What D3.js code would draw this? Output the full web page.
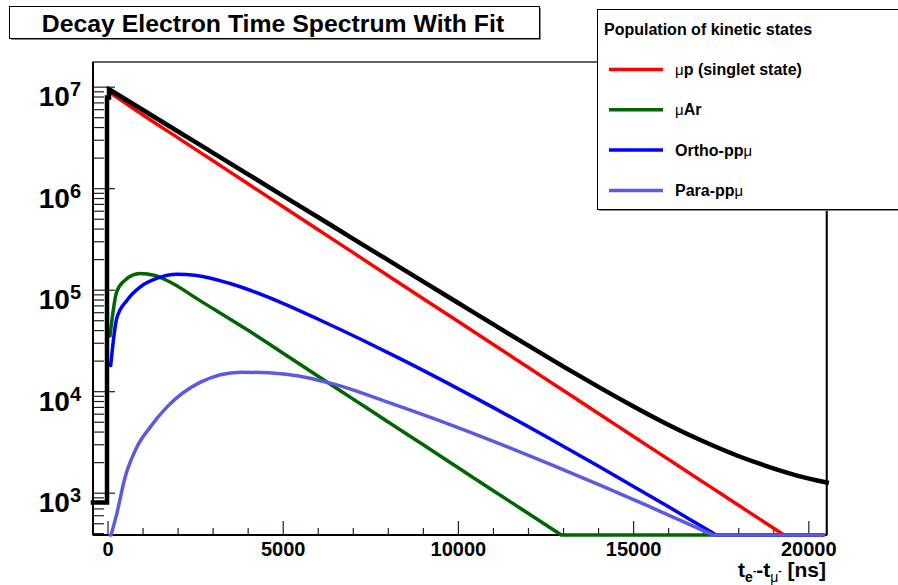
<!DOCTYPE html>
<html>
<head>
<meta charset="utf-8">
<script src="https://cdn.jsdelivr.net/npm/d3@7.9.0/dist/d3.min.js"></script>
<style>
  body { margin: 0; background: #fff; }
  svg { font-family: "Liberation Sans", Arial, Helvetica, sans-serif; font-weight: bold; }
</style>
</head>
<body>
<svg id="chart" width="898" height="585"></svg>
<script>
// values: time in ns, counts per bin
const histT = [-414, -14, -14, 43, 43, 100, 1000, 2000, 3000, 4000, 5000, 6000, 7000, 8000, 9000,
  10000, 11000, 12000, 13000, 14000, 15000, 16000, 17000, 18000, 19000, 19763, 20525];
const histCounts = [800, 800, 7.8e6, 7.8e6, 9.4e6, 9.18e6, 5.93e6, 3.64e6, 2.24e6, 1.377e6, 8.45e5, 5.20e5,
  3.19e5, 1.963e5, 1.208e5, 7.43e4, 4.57e4, 2.825e4, 1.758e4, 1.109e4, 7.11e3, 4.68e3, 3.21e3, 2.30e3,
  1.74e3, 1.45e3, 1.26e3];

const singletT = [60, 1000, 2000, 3000, 4000, 5000, 6000, 7000, 8000, 9000, 10000, 11000, 12000,
  13000, 14000, 15000, 16000, 17000, 18000, 19000, 20000];
const singletN = [8.8e6, 5.29e6, 3.15e6, 1.87e6, 1.11e6, 6.59e5, 3.92e5, 2.33e5, 1.38e5, 8.2e4, 4.88e4,
  2.90e4, 1.72e4, 1.02e4, 6.07e3, 3.60e3, 2.14e3, 1.27e3, 755, 449, 267];

const muArT = [71, 262, 500, 927, 1356, 1784, 2640, 4000, 5000, 6000, 7000, 8000, 9000, 10000,
  11000, 12000, 13000];
const muArN = [3.5e4, 9.5e4, 1.24e5, 1.44e5, 1.38e5, 1.19e5, 7.8e4, 4.0e4, 2.38e4, 1.41e4, 8.4e3,
  5.0e3, 2.98e3, 1.77e3, 1.05e3, 628, 373];

const orthoT = [91, 262, 548, 927, 1404, 1975, 2546, 3496, 4923, 6000, 7255, 8348, 10000, 12628,
  14055, 15000, 16000, 17000, 18000];
const orthoN = [1.79e4, 5.2e4, 7.8e4, 1.06e5, 1.29e5, 1.42e5, 1.38e5, 1.15e5, 7.55e4, 5.14e4, 3.21e4,
  2.09e4, 1.06e4, 3.40e3, 1.79e3, 1.16e3, 730, 456, 285];

const paraT = [71, 262, 500, 833, 1213, 1700, 2640, 3800, 5017, 6444, 7871, 9298, 10725, 12628,
  14055, 15500, 17289, 18000];
const paraN = [350, 615, 1410, 2790, 4400, 7000, 1.22e4, 1.54e4, 1.48e4, 1.18e4, 8.09e3, 5.40e3, 3.51e3,
  1.91e3, 1.19e3, 721, 382, 295];

const fitEnd = 20430;
const xTicks = [0, 5000, 10000, 15000, 20000];
const yTicks = [1e3, 1e4, 1e5, 1e6, 1e7];

const series = [
  { mu: "μ", label: "Ar", t: muArT, n: muArN, color: "#006600" },
  { mu: "μ", label: "p (singlet state)", t: singletT, n: singletN, color: "#ff0000" },
  { label: "Ortho-pp", muAfter: "μ", t: orthoT, n: orthoN, color: "#0000ff" },
  { label: "Para-pp", muAfter: "μ", t: paraT, n: paraN, color: "#5b5bdd" }
];
const legendOrder = [1, 0, 2, 3];

const svg = d3.select("#chart");
const plotL = 93, plotR = 826.7, plotT = 62, plotB = 535;

const x = d3.scaleLinear().domain([-414, 20525]).range([plotL, plotR]);
const y = d3.scaleLog().domain([383, 1.75e7]).range([plotB, plotT]);
const yFloor = y.domain()[0];

svg.append("rect").attr("width", 898).attr("height", 585).attr("fill", "#fff");

// frame
svg.append("rect")
  .attr("x", plotL).attr("y", plotT)
  .attr("width", plotR - plotL).attr("height", plotB - plotT)
  .attr("fill", "none").attr("stroke", "#000").attr("stroke-width", 1.2);
svg.append("line")
  .attr("x1", plotR).attr("x2", plotR).attr("y1", plotT).attr("y2", plotB)
  .attr("stroke", "#000").attr("stroke-width", 2);

// x axis: major + minor ticks pointing inward
const xMinor = d3.range(0, 20001, 1000).filter(d => d % 5000 !== 0);
svg.append("g")
  .attr("transform", `translate(0,${plotB})`)
  .call(d3.axisBottom(x).tickValues(xMinor).tickSize(-7).tickFormat(""))
  .call(g => g.select(".domain").remove());
const gx = svg.append("g")
  .attr("transform", `translate(0,${plotB})`)
  .call(d3.axisBottom(x).tickValues(xTicks).tickSize(-14).tickPadding(7).tickFormat(d3.format("d")));
gx.select(".domain").attr("stroke-width", 2).attr("d", `M${plotL},0H${plotR}`);
gx.selectAll("text").attr("font-size", 20).attr("font-weight", "bold")
  .attr("font-family", "Liberation Sans, Arial, sans-serif").attr("fill", "#000");

// y axis: decades + 2..9 minor ticks
const yMinor = [];
for (let e = 2; e <= 7; e++) {
  for (let k = 2; k <= 9; k++) {
    const v = k * Math.pow(10, e);
    if (v >= yFloor && v <= y.domain()[1]) yMinor.push(v);
  }
}
svg.append("g")
  .attr("transform", `translate(${plotL},0)`)
  .call(d3.axisLeft(y).tickValues(yMinor).tickSize(-11).tickFormat(""))
  .call(g => g.select(".domain").remove());
const gy = svg.append("g")
  .attr("transform", `translate(${plotL},0)`)
  .call(d3.axisLeft(y).tickValues(yTicks).tickSize(-22).tickPadding(12).tickFormat(""));
gy.select(".domain").attr("stroke-width", 2).attr("d", `M0,${plotB}V${plotT}`);
gy.selectAll(".tick text").each(function(d) {
  const t = d3.select(this).attr("dy", null).attr("y", 19)
    .attr("font-family", "Liberation Sans, Arial, sans-serif")
    .attr("font-weight", "bold").attr("fill", "#000");
  t.append("tspan").attr("font-size", 28).text("10");
  t.append("tspan").attr("font-size", 20).attr("dy", -10).text(Math.round(Math.log10(d)));
});
svg.selectAll(".tick line").attr("stroke", "#222").attr("stroke-width", 1.2);

// curves that fall below the axis minimum are drawn along the floor
function floorPoints(ts, vs, tEnd) {
  const pts = [];
  for (let i = 0; i < ts.length; i++) {
    if (i > 0) {
      const a = vs[i - 1], b = vs[i];
      if ((a >= yFloor) !== (b >= yFloor)) {
        const la = Math.log10(a), lb = Math.log10(b);
        const f = (Math.log10(yFloor) - la) / (lb - la);
        pts.push([ts[i - 1] + f * (ts[i] - ts[i - 1]), yFloor]);
      }
    }
    pts.push([ts[i], Math.max(vs[i], yFloor)]);
  }
  if (tEnd > ts[ts.length - 1]) pts.push([tEnd, yFloor]);
  return pts;
}

// split into runs above the floor (smoothed) and runs on the floor (straight)
function runs(pts) {
  const out = [];
  let cur = [pts[0]], onFloor = pts[0][1] <= yFloor;
  for (let i = 1; i < pts.length; i++) {
    const p = pts[i], f = p[1] <= yFloor;
    if (f === onFloor) { cur.push(p); continue; }
    if (f) { cur.push(p); out.push({ floor: false, pts: cur }); cur = [p]; }
    else { out.push({ floor: true, pts: cur }); cur = [cur[cur.length - 1], p]; }
    onFloor = f;
  }
  out.push({ floor: onFloor, pts: cur });
  return out;
}

const smooth = d3.line().x(d => x(d[0])).y(d => y(d[1])).curve(d3.curveMonotoneX);
const straight = d3.line().x(d => x(d[0])).y(d => y(d[1]));

series.forEach(s => {
  const d = runs(floorPoints(s.t, s.n, fitEnd))
    .filter(r => r.pts.length > 1)
    .map(r => (r.floor ? straight : smooth)(r.pts)).join("");
  svg.append("path")
    .attr("d", d)
    .attr("fill", "none")
    .attr("stroke", s.color)
    .attr("stroke-width", 3.5)
    .attr("stroke-linejoin", "round")
    .attr("stroke-linecap", "round");
});

// data histogram: steps at the start, then the decay
const histPts = histT.map((t, i) => [t, histCounts[i]]);
svg.append("path")
  .attr("d", straight(histPts.slice(0, 6)) + smooth(histPts.slice(5)))
  .attr("fill", "none")
  .attr("stroke", "#000")
  .attr("stroke-width", 4.5)
  .attr("stroke-linecap", "square");

// x axis title
const xt = svg.append("text")
  .attr("x", 826).attr("y", 577)
  .attr("text-anchor", "end")
  .attr("font-size", 21).attr("fill", "#000");
xt.append("tspan").text("t");
xt.append("tspan").attr("font-size", 14).attr("dy", 5).text("e");
xt.append("tspan").attr("font-size", 10).attr("dy", -8).text("-");
xt.append("tspan").attr("dy", 3).text("-t");
xt.append("tspan").attr("font-size", 14).attr("font-weight", "normal").attr("dy", 5).text("μ");
xt.append("tspan").attr("font-size", 10).attr("dy", -8).text("-");
xt.append("tspan").attr("dy", 3).text(" [ns]");

// title box
svg.append("rect").attr("x", 11).attr("y", 8).attr("width", 530).attr("height", 32).attr("fill", "#888");
svg.append("rect").attr("x", 9.5).attr("y", 6.5).attr("width", 530).attr("height", 32)
  .attr("fill", "#fff").attr("stroke", "#000").attr("stroke-width", 1);
svg.append("text")
  .attr("x", 273).attr("y", 31.5)
  .attr("text-anchor", "middle")
  .attr("font-size", 24.8).attr("fill", "#000")
  .text("Decay Electron Time Spectrum With Fit");

// legend
const lg = svg.append("g");
lg.append("rect").attr("x", 599).attr("y", 11).attr("width", 320).attr("height", 200).attr("fill", "#888");
lg.append("rect").attr("x", 597.5).attr("y", 9.5).attr("width", 320).attr("height", 200)
  .attr("fill", "#fff").attr("stroke", "#000").attr("stroke-width", 1);
lg.append("text").attr("x", 604).attr("y", 35).attr("font-size", 16).attr("fill", "#000")
  .text("Population of kinetic states");
legendOrder.forEach((idx, i) => {
  const s = series[idx];
  const cy = 69.5 + i * 40.3;
  lg.append("line").attr("x1", 609).attr("x2", 663).attr("y1", cy).attr("y2", cy)
    .attr("stroke", s.color).attr("stroke-width", 3.5);
  const t = lg.append("text").attr("x", 675).attr("y", cy + 5.5).attr("font-size", 16).attr("fill", "#000");
  if (s.mu) t.append("tspan").attr("font-weight", "normal").attr("font-size", 15).text(s.mu);
  t.append("tspan").text(s.label);
  if (s.muAfter) t.append("tspan").attr("font-weight", "normal").attr("font-size", 15).text(s.muAfter);
});
</script>
</body>
</html>
